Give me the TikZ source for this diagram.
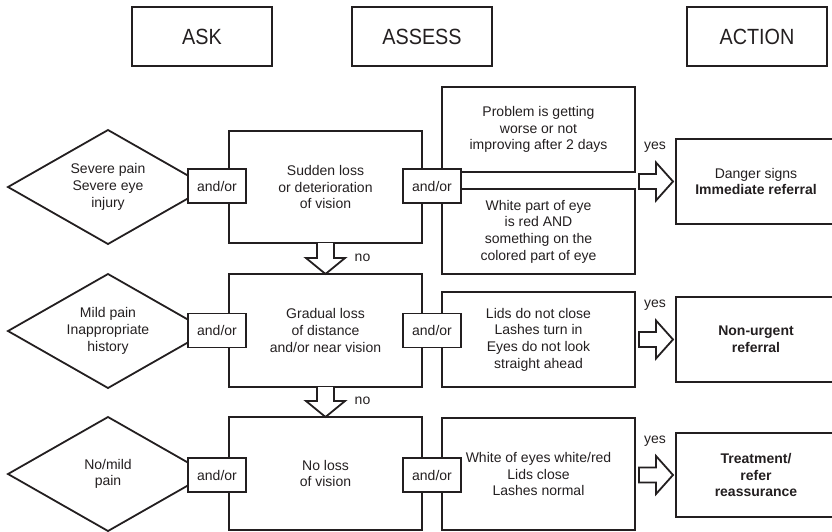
\documentclass[tikz,border=0pt]{standalone}
\usepackage{fontspec}
\setmainfont{Liberation Sans}
\newfontfamily\headfont[FakeStretch=0.9]{Liberation Sans}
\usetikzlibrary{shapes.geometric,calc}
\definecolor{ink}{HTML}{231F20}
\begin{document}
\begin{tikzpicture}[x=1pt,y=-1pt,
  every node/.style={text=ink},
  box/.style={draw=ink, line width=1.8pt, rectangle, inner sep=0pt, outer sep=0pt,
    align=center, font=\fontsize{14}{16.7}\selectfont},
  headbox/.style={box, minimum width=140, minimum height=59,
    font=\headfont\fontsize{22}{26}\selectfont},
  askbox/.style={draw=ink, line width=1.8pt, diamond, shape aspect=1.75, inner sep=0pt,
    outer sep=0pt, minimum width=200, minimum height=114, align=center,
    font=\fontsize{14}{16.7}\selectfont},
  assessbox/.style={box, minimum width=193},
  signbox/.style={box, minimum width=193},
  andor/.style={box, fill=white, minimum width=58, minimum height=34},
  actbox/.style={box, minimum width=160},
  lbl/.style={inner sep=0pt, font=\fontsize{14}{16.7}\selectfont},
  fat/.style={draw=ink, line width=1.8pt, fill=white, line join=miter}
]
\useasboundingbox (0,0) rectangle (832,531);
\clip (0,0) rectangle (832,531);

% column headings
\node[headbox] (hask)    at (202,36.5) {ASK};
\node[headbox] (hassess) at (422,36.5) {ASSESS};
\node[headbox] (haction) at (757,36.5) {ACTION};

% ASK column
\node[askbox] (q1) at (108,187) {Severe pain\\Severe eye\\injury};
\node[askbox] (q2) at (108,331) {Mild pain\\Inappropriate\\history};
\node[askbox] (q3) at (108,474) {No/mild\\pain};

% ASSESS column: vision
\node[assessbox, minimum height=112] (v1) at (325.5,187)   {Sudden loss\\or deterioration\\of vision};
\node[assessbox, minimum height=113] (v2) at (325.5,330.5) {Gradual loss\\of distance\\and/or near vision};
\node[assessbox, minimum height=113] (v3) at (325.5,473.5) {No loss\\of vision};

% ASSESS column: signs
\node[signbox, minimum height=85]  (s1a) at (538.5,129.5) {Problem is getting\\worse or not\\improving after 2 days};
\node[signbox, minimum height=85]  (s1b) at (538.5,231.5) {White part of eye\\is red AND\\something on the\\colored part of eye};
\node[signbox, minimum height=95]  (s2)  at (538.5,339.5) {Lids do not close\\Lashes turn in\\Eyes do not look\\straight ahead};
\node[signbox, minimum height=112] (s3)  at (538.5,474)   {White of eyes white/red\\Lids close\\Lashes normal};

% and/or joints
\node[andor] (la1) at (217,186)   {and/or};
\node[andor] (la2) at (217,330.5) {and/or};
\node[andor] (la3) at (217,475)   {and/or};
\node[andor] (ra1) at (432,186)   {and/or};
\node[andor] (ra2) at (432,330.5) {and/or};
\node[andor] (ra3) at (432,475)   {and/or};

% ACTION column
\node[actbox, minimum height=85] (a1) at (756,181.5) {Danger signs\\\textbf{Immediate referral}};
\node[actbox, minimum height=85] (a2) at (756,339.5) {\textbf{Non-urgent}\\\textbf{referral}};
\node[actbox, minimum height=84] (a3) at (756,475)   {\textbf{Treatment/}\\\textbf{refer}\\\textbf{reassurance}};

% "no" arrows between vision boxes
\foreach \top/\bot in {v1/v2, v2/v3}{
  \draw[fat] ($(\top.south)+(-8.5,0)$) -- ($(\bot.north)+(-8.5,-16)$)
    -- ($(\bot.north)+(-19.5,-16)$) -- (\bot.north) -- ($(\bot.north)+(19.5,-16)$)
    -- ($(\bot.north)+(8.5,-16)$) -- ($(\top.south)+(8.5,0)$);
  \node[lbl] at ($(\bot.north)+(37,-16)$) {no};
}

% "yes" arrows towards actions
\foreach \src/\dst in {s1a/a1, s2/a2, s3/a3}{
  \coordinate (st) at ($(\src.east |- \dst.west)+(4,0)$);
  \coordinate (tp) at ($(\dst.west)+(-3,0)$);
  \draw[fat] ($(st)+(0,-7.5)$) -- ($(tp)+(-17,-7.5)$) -- ($(tp)+(-17,-19)$) -- (tp)
    -- ($(tp)+(-17,19)$) -- ($(tp)+(-17,7.5)$) -- ($(st)+(0,7.5)$) -- cycle;
  \node[lbl] at ($(tp)+(-18,-34)$) {yes};
}
\end{tikzpicture}
\end{document}
